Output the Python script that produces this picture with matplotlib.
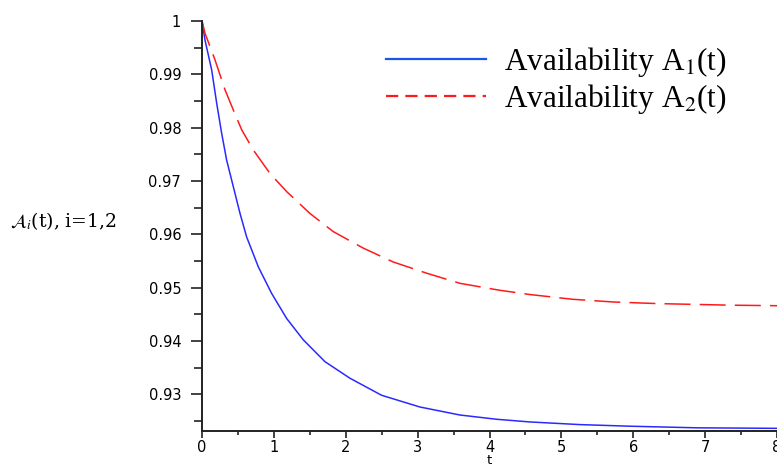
import matplotlib
matplotlib.use("Agg")
import matplotlib.pyplot as plt
from matplotlib.ticker import MultipleLocator, FixedLocator
from matplotlib.lines import Line2D

# Data
t_a1 = [0, 0.042, 0.135, 0.204, 0.274, 0.343, 0.436, 0.529, 0.621, 0.783,
        0.969, 1.178, 1.409, 1.711, 2.058, 2.499, 3.032, 3.588, 4.10, 4.56,
        5.26, 5.95, 6.88, 8.0]
a1 = [1.0, 0.9964, 0.9908, 0.9846, 0.9789, 0.9739, 0.9689, 0.9639, 0.9595,
      0.9539, 0.9489, 0.9442, 0.9402, 0.9361, 0.9330, 0.9298, 0.9276, 0.9261,
      0.9253, 0.9248, 0.9243, 0.9240, 0.9237, 0.9236]

t_a2 = [0, 0.042, 0.181, 0.320, 0.436, 0.552, 0.714, 0.946, 1.178, 1.502,
        1.826, 2.244, 2.661, 3.125, 3.588, 4.14, 4.56, 5.16, 5.72, 6.33,
        7.35, 8.0]
a2 = [1.0, 0.9977, 0.9927, 0.9871, 0.9833, 0.9796, 0.9758, 0.9714, 0.9680,
      0.9639, 0.9605, 0.9574, 0.9548, 0.9527, 0.9508, 0.9495, 0.9487, 0.9478,
      0.9473, 0.9470, 0.9467, 0.9466]

legend_labels = [r"Availability A$_1$(t)", r"Availability A$_2$(t)"]
x_ticks = [0, 1, 2, 3, 4, 5, 6, 7, 8]
y_ticks = [0.93, 0.94, 0.95, 0.96, 0.97, 0.98, 0.99, 1.0]
y_tick_labels = ["0.93", "0.94", "0.95", "0.96", "0.97", "0.98", "0.99", "1"]

plt.rcParams['mathtext.fontset'] = 'stix'

fig = plt.figure(figsize=(7.77, 4.68), dpi=100)
ax = fig.add_axes([202 / 777, 1 - 431 / 468, 1 - 202 / 777, (431 - 21) / 468])

ax.plot(t_a1, a1, color='#2a2aff', lw=1.1)
ax.plot(t_a2, a2, color='#ff1a1a', lw=1.1, dashes=(17, 6))

ax.set_xlim(0, 8)
ax.set_ylim(0.9231, 1.0)

ax.spines['top'].set_visible(False)
ax.spines['right'].set_visible(False)
for s in ('left', 'bottom'):
    ax.spines[s].set_linewidth(1.4)
    ax.spines[s].set_color('#222222')

ax.xaxis.set_major_locator(FixedLocator(x_ticks))
ax.xaxis.set_minor_locator(MultipleLocator(0.5))
ax.yaxis.set_major_locator(FixedLocator(y_ticks))
ax.set_yticklabels(y_tick_labels)
ax.yaxis.set_minor_locator(MultipleLocator(0.005))

ax.tick_params(axis='y', which='major', length=8, width=1.2, pad=7, labelsize=10.5, colors='#222222')
ax.tick_params(axis='y', which='minor', length=5.5, width=1.2, colors='#222222')
ax.tick_params(axis='x', which='major', length=5, width=1.2, pad=1.5, labelsize=10.5, colors='#222222')
ax.tick_params(axis='x', which='minor', length=3, width=1.2, colors='#222222')
for lbl in ax.get_xticklabels() + ax.get_yticklabels():
    lbl.set_color('black')

fig.text(489 / 777, 1.5 / 468, 't', ha='center', va='bottom', fontsize=9.5,
         family='DejaVu Sans')
fig.text(10 / 777, 1 - 221 / 468, r"$\mathcal{A}_i$(t), i=1,2", ha='left', va='center',
         fontsize=13.5, family='DejaVu Serif')

handles = [Line2D([], [], color='#1a55ee', lw=1.6),
           Line2D([], [], color='#ff1a1a', lw=1.6, dashes=(5.5, 3.2))]
leg = ax.legend(handles, legend_labels, loc='upper right',
                bbox_to_anchor=(752 / 777, 1 - 20 / 468),
                bbox_transform=fig.transFigure, frameon=False, handlelength=3.2,
                handletextpad=0.58, labelspacing=0.1, borderpad=0.3,
                prop={'family': 'Liberation Serif', 'size': 22.5})

fig.savefig('out.png', dpi=100)
